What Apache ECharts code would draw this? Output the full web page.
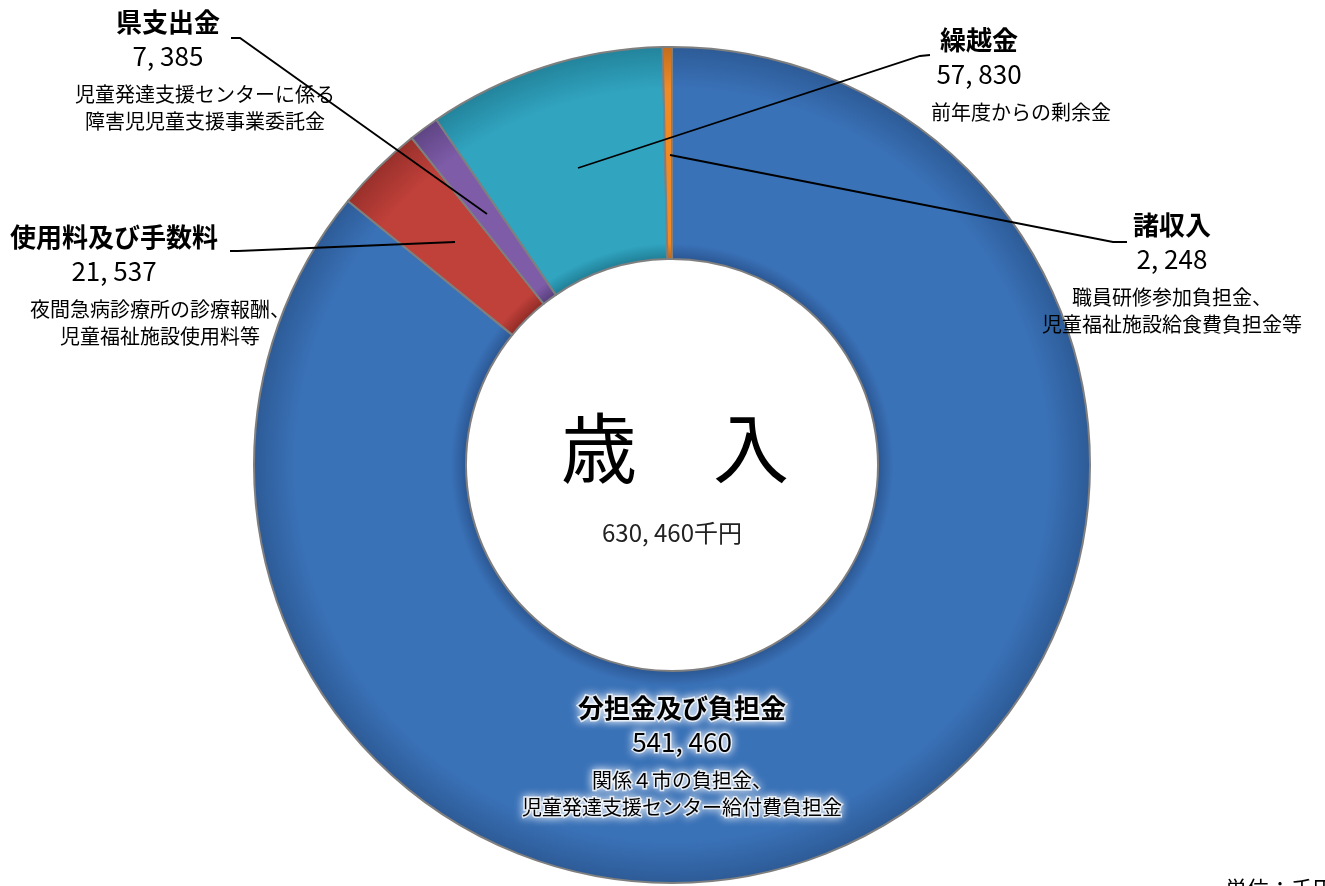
<!DOCTYPE html>
<html lang="ja">
<head>
<meta charset="UTF-8">
<title>歳入</title>
<script src="https://cdn.jsdelivr.net/npm/echarts@6/dist/echarts.min.js"></script>
<style>
html,body{margin:0;padding:0;background:#fff;}
#main{width:1325px;height:886px;}
</style>
</head>
<body>
<div id="main"></div>
<script>
// 歳入の内訳（単位：千円）
var categories = ['分担金及び負担金', '使用料及び手数料', '県支出金', '繰越金', '諸収入'];
var amounts = [541460, 21537, 7385, 57830, 2248];
var notes = [
    ['関係４市の負担金、', '児童発達支援センター給付費負担金'],
    ['夜間急病診療所の診療報酬、', '児童福祉施設使用料等'],
    ['児童発達支援センターに係る', '障害児児童支援事業委託金'],
    ['前年度からの剰余金'],
    ['職員研修参加負担金、', '児童福祉施設給食費負担金等']
];

// 色 [内側の影, 本体, 外側の影]
var colors = [
    ['#2a5591', '#3a72b8', '#2d5b97'],
    ['#8e2a25', '#c0403a', '#99302b'],
    ['#553d7a', '#7e5ca8', '#5f4585'],
    ['#1f7c93', '#31a4c0', '#23849c'],
    ['#b8631a', '#f08a26', '#c46d1e']
];

// ラベル位置と引出線
var labelPos = [
    {x: 682, y: 691, shift: 0, line: null},
    {x: 160, y: 220, shift: -46, line: [[230, 251], [238, 251], [455, 242]]},
    {x: 205, y: 5, shift: -37, line: [[231, 38], [240, 38], [487, 214]]},
    {x: 1021, y: 23, shift: -42, line: [[930, 55], [920, 56], [578, 168]]},
    {x: 1172, y: 208, shift: 0, line: [[1127, 242], [1113, 242], [670, 155]]}
];

var FONT = '"Noto Sans CJK JP", "Noto Sans", sans-serif';
var cx = 672, cy = 465, r0 = 206, r1 = 418;

function fmt(v) {
    return v.toLocaleString('en-US').replace(/,/g, ', ');
}

function grad(i) {
    var c = colors[i];
    return new echarts.graphic.RadialGradient(cx, cy, r1, [
        {offset: 0.49, color: c[0]},
        {offset: 0.53, color: c[1]},
        {offset: 0.9, color: c[1]},
        {offset: 1, color: c[2]}
    ], true);
}

function richFor(i) {
    var s = labelPos[i].shift;
    var pad = s < 0 ? [0, -2 * s, 0, 0] : [0, 0, 0, 2 * s];
    var glow = i === 0 ? {textShadowColor: '#fff', textShadowBlur: 8, textBorderColor: 'rgba(255,255,255,0.75)', textBorderWidth: 3} : {};
    return {
        n: Object.assign({fontFamily: FONT, fontSize: 26, fontWeight: 'bold', lineHeight: 34, padding: pad, color: '#000'}, glow),
        v: Object.assign({fontFamily: FONT, fontSize: 26, lineHeight: 34, padding: pad, color: '#000'}, glow),
        g: {fontSize: 1, lineHeight: 8},
        d: Object.assign({fontFamily: FONT, fontSize: 20, lineHeight: 27, color: '#000'}, glow)
    };
}

var total = amounts.reduce(function (a, b) { return a + b; }, 0);

// 引出線（扇形の上に描く）
var leaders = labelPos.filter(function (p) { return p.line; }).map(function (p) {
    return {
        type: 'polyline', z: 100,
        shape: {points: p.line},
        style: {stroke: '#000', lineWidth: 1.8, fill: null}
    };
});

var myChart = echarts.init(document.getElementById('main'));

var option = {
    animation: false,
    backgroundColor: '#fff',
    graphic: leaders.concat([
        {
            type: 'text', x: cx + 3, y: 448,
            style: {text: '歳\u3000入', font: '76px ' + FONT, fill: '#000', align: 'center', verticalAlign: 'middle'}
        },
        {
            type: 'text', x: cx, y: 533,
            style: {text: fmt(total) + '千円', font: '24px ' + FONT, fill: '#222', align: 'center', verticalAlign: 'middle'}
        },
        {
            type: 'text', x: 1225, y: 878,
            style: {text: '単位：千円', font: '22px ' + FONT, fill: '#000', align: 'left', verticalAlign: 'top'}
        }
    ]),
    series: [
        {
            type: 'pie',
            center: [cx, cy],
            radius: [r0, r1],
            startAngle: 90,
            clockwise: true,
            avoidLabelOverlap: false,
            silent: true,
            itemStyle: {borderColor: '#7f7f7f', borderWidth: 2},
            label: {
                show: true,
                position: 'outside',
                formatter: function (p) {
                    var lines = ['{n|' + p.name + '}', '{v|' + fmt(p.value) + '}', '{g| }'];
                    notes[p.dataIndex].forEach(function (l) { lines.push('{d|' + l + '}'); });
                    return lines.join('\n');
                }
            },
            labelLine: {show: false},
            labelLayout: function (p) {
                var pos = labelPos[p.dataIndex];
                return {x: pos.x, y: pos.y, align: 'center', verticalAlign: 'top'};
            },
            data: categories.map(function (name, i) {
                return {
                    name: name,
                    value: amounts[i],
                    itemStyle: {color: grad(i)},
                    label: {rich: richFor(i)}
                };
            })
        }
    ]
};

myChart.setOption(option);
</script>
</body>
</html>
